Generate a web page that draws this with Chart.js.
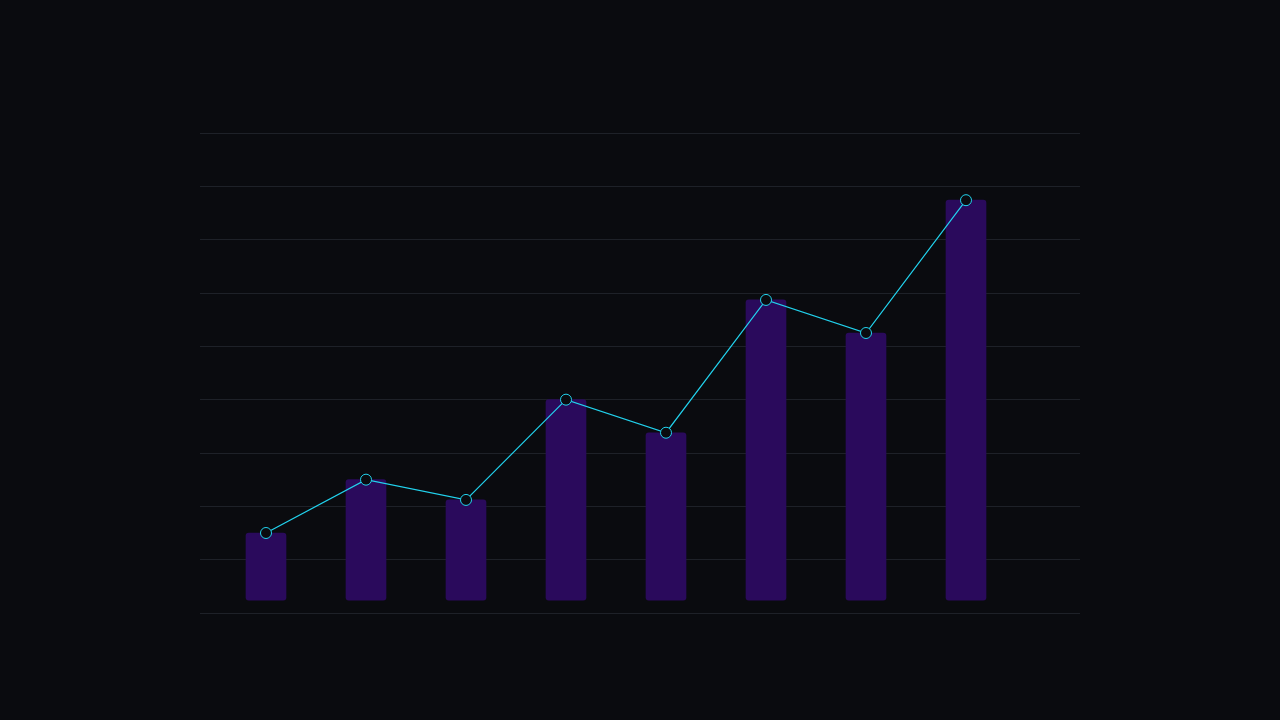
<!DOCTYPE html><html><head><style>html,body{margin:0;background:#0a0b0f;}#w{position:absolute;left:0;top:0;width:1280px;height:720px;}</style>
<script src="https://cdn.jsdelivr.net/npm/chart.js@4"></script></head><body><div id="w"><canvas id="c"></canvas></div><script>
const positions=[1,2,3,4,5,6,7,8];
const barValues=[15,25,21.2,40,33.8,58.7,52.5,77.4];
const lineValues=[15,25,21.2,40,33.8,58.7,52.5,77.4];
const barBase=2.4;
new Chart(document.getElementById('c'),{
data:{datasets:[
{type:'line',data:positions.map((x,i)=>({x,y:lineValues[i]})),borderColor:'#22d3ee',borderWidth:1.2,pointRadius:5.5,pointBackgroundColor:'#0a0b0f',pointBorderColor:'#22d3ee',pointBorderWidth:1,tension:0,order:0},
{type:'bar',data:positions.map((x,i)=>({x,y:[barBase,barValues[i]]})),backgroundColor:'#2a0a5c',barThickness:40,borderRadius:3,borderSkipped:false,order:1}
]},
options:{responsive:true,maintainAspectRatio:false,animation:false,
layout:{padding:{left:200,right:200,top:133,bottom:107}},
plugins:{legend:{display:false},tooltip:{enabled:false}},
scales:{x:{type:'linear',offset:false,min:0.34,max:9.14,display:false},
y:{min:0,max:90,ticks:{display:false,stepSize:10},grid:{color:'#1e2128',drawTicks:false},border:{display:false}}}}
});
</script></body></html>
